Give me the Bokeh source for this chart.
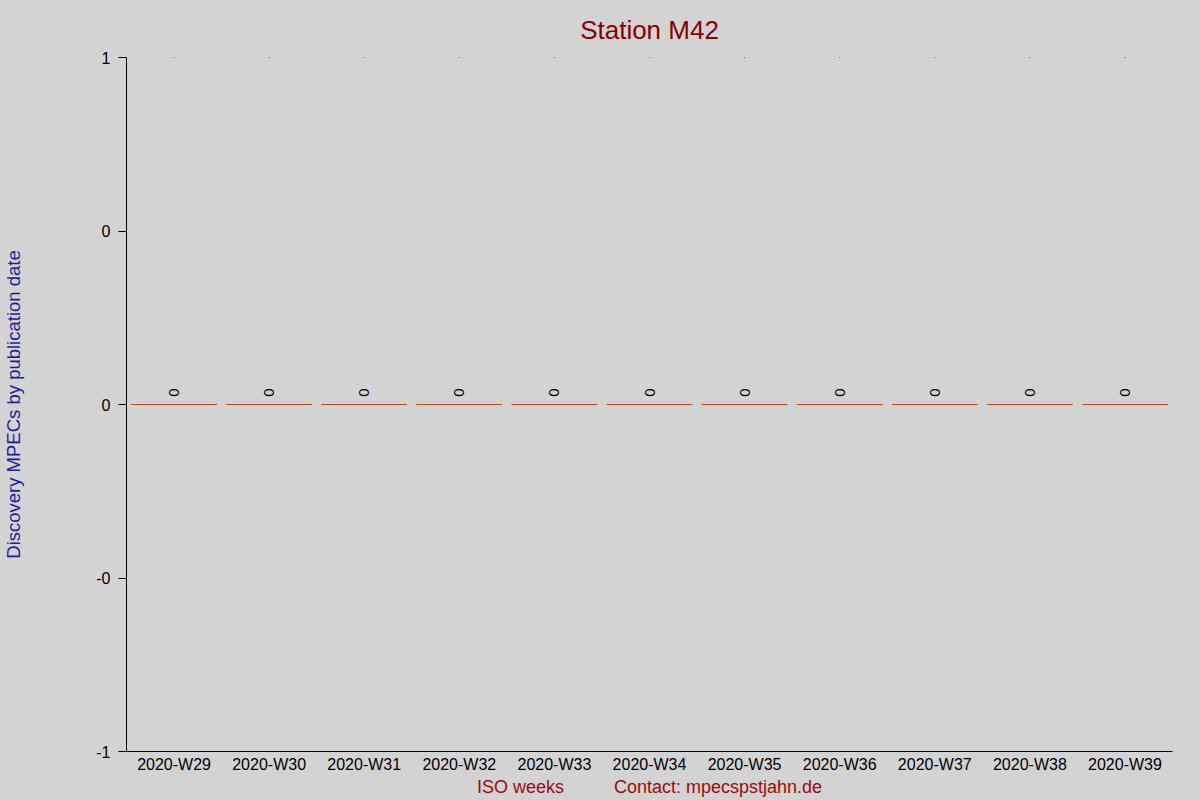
import math
from bokeh.plotting import figure
from bokeh.models import FactorRange, Range1d, FixedTicker, ColumnDataSource
from bokeh.core.properties import value
from bokeh.embed import file_html
from bokeh.resources import INLINE

# ---- data ----
weeks = ["2020-W29", "2020-W30", "2020-W31", "2020-W32", "2020-W33", "2020-W34",
         "2020-W35", "2020-W36", "2020-W37", "2020-W38", "2020-W39"]
counts = [0, 0, 0, 0, 0, 0, 0, 0, 0, 0, 0]
y_ticks = [-1, -0.5, 0, 0.5, 1]
y_tick_labels = ["-1", "-0", "0", "0", "1"]

title_text = "Station M42"
y_label = "Discovery MPECs by publication date"
x_label = "ISO weeks"
contact = "Contact: mpecspstjahn.de"

BG = "#d3d3d3"
FONT = "Liberation Sans"

src = ColumnDataSource(dict(week=weeks, count=counts,
                            label=[str(c) for c in counts],
                            top=[y_ticks[-1]] * len(weeks)))

p = figure(width=1200, height=800, x_range=FactorRange(*weeks, range_padding=0),
           y_range=Range1d(y_ticks[0], y_ticks[-1]), output_backend="svg",
           toolbar_location=None, title=title_text,
           min_border_left=126, min_border_right=28, min_border_top=57,
           min_border_bottom=49)

p.background_fill_color = BG
p.border_fill_color = BG
p.outline_line_color = None
p.xgrid.grid_line_color = None
p.ygrid.grid_line_color = None

p.title.align = "center"
p.title.vertical_align = "bottom"
p.title.standoff = 25
p.title.text_font = FONT
p.title.text_font_size = "26px"
p.title.text_font_style = "normal"
p.title.text_color = "#8b0000"

# bars (zero height -> drawn as line)
p.vbar(x="week", top="count", bottom=0, width=0.9, source=src,
       fill_color="#c24a14", line_color="#c24a14", line_width=1)

# value labels, rotated
p.text(x="week", y="count", text="label", source=src, angle=math.pi / 2,
       text_align="center", text_baseline="middle", y_offset=-12,
       text_font=value(FONT), text_font_size="15px", text_color="black")

# small dots at the top of each category column
p.scatter(x="week", y="top", source=src, marker="square", size=1,
          fill_color="black", line_color=None)

# y axis
yax = p.yaxis[0]
yax.ticker = FixedTicker(ticks=y_ticks)
yax.major_label_overrides = {t: l for t, l in zip(y_ticks, y_tick_labels)}
yax.major_tick_out = 8
yax.major_tick_in = 0
yax.minor_tick_line_color = None
yax.major_label_standoff = 8
yax.major_label_text_font = FONT
yax.major_label_text_font_size = "16px"
yax.major_label_text_color = "black"
yax.axis_line_color = "black"
yax.major_tick_line_color = "black"
yax.axis_label = y_label
yax.axis_label_text_font = FONT
yax.axis_label_text_font_size = "18.5px"
yax.axis_label_text_font_style = "normal"
yax.axis_label_text_color = "#1c1ca0"
yax.axis_label_standoff = 69

# x axis
xax = p.xaxis[0]
xax.major_tick_out = 0
xax.major_tick_in = 0
xax.major_tick_line_color = None
xax.axis_line_color = "black"
xax.major_label_standoff = 4
xax.major_label_text_font = FONT
xax.major_label_text_font_size = "16px"
xax.major_label_text_color = "black"
# one centred axis label holding both bottom texts, separated by fixed spaces
xax.axis_label = x_label + "\u00a0" * 10 + contact
xax.axis_label_standoff = 1
xax.axis_label_text_font = FONT
xax.axis_label_text_font_size = "18px"
xax.axis_label_text_font_style = "normal"
xax.axis_label_text_color = "#9b0b0b"

html = file_html(p, INLINE)
html = html.replace("</head>", "<style>body{background-color:#d3d3d3;}</style></head>", 1)
open("out.html", "w").write(html)
